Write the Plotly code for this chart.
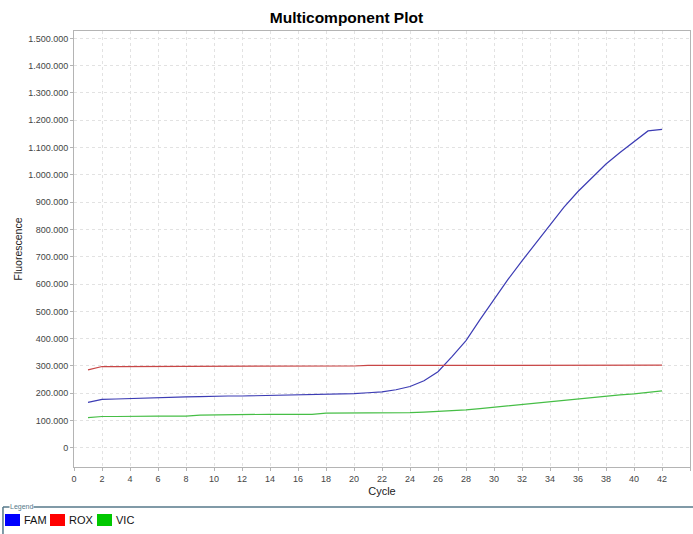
import plotly.graph_objects as go

cycles = list(range(1, 43))

fam = [167000, 178000, 179000, 181000, 182000, 184000, 185000, 187000, 188000, 190000,
       190000, 190000, 191000, 192000, 193000, 195000, 196000, 197000, 199000, 199000,
       202000, 205000, 213000, 225000, 246000, 279000, 334000, 393000, 470000, 545000,
       617000, 685000, 750000, 819000, 882000, 939000, 989000, 1040000, 1082000, 1122000,
       1161000, 1167000]

rox = [286000, 298000, 298000, 298000, 298000, 298000, 298000, 298000, 300000, 300000,
       300000, 300000, 300000, 300000, 300000, 300000, 300000, 300000, 300000, 300000,
       302000, 302000, 302000, 302000, 302000, 302000, 302000, 302000, 302000, 302000,
       302000, 302000, 302000, 302000, 302000, 302000, 302000, 302000, 302000, 302000,
       302000, 303000]

vic = [111000, 115000, 115000, 116000, 116000, 116000, 116000, 116000, 120000, 121000,
       121000, 123000, 123000, 123000, 123000, 123000, 123000, 127000, 127000, 127000,
       127000, 127000, 128000, 129000, 131000, 133000, 135000, 139000, 144000, 149000,
       155000, 160000, 165000, 171000, 176000, 181000, 186000, 190000, 194000, 198000,
       204000, 209000]

series = [
    ("FAM", fam, "#3c3cb4", "#0000ff"),
    ("ROX", rox, "#c84646", "#ff0000"),
    ("VIC", vic, "#46be46", "#00c800"),
]

fig = go.Figure()

for name, vals, line_col, swatch in series:
    fig.add_trace(go.Scatter(x=cycles, y=vals, mode="lines", name=name,
                             line=dict(color=line_col, width=1.2),
                             showlegend=False))

grid = dict(showgrid=True, gridcolor="#e2e2e2", griddash="dot", gridwidth=1,
            showline=True, linecolor="#b4b4b4", linewidth=1, mirror=True,
            ticks="outside", ticklen=3, tickcolor="#b4b4b4", automargin=False,
            tickfont=dict(size=9, color="#444444"), zeroline=False)

fig.update_xaxes(range=[0, 44], dtick=2, tick0=0,
                 title=dict(text="Cycle", font=dict(size=11, color="#222222"), standoff=4),
                 **grid)
fig.update_yaxes(range=[-70000, 1527000], dtick=100000, tick0=0, tickformat=",d",
                 title=dict(text="Fluorescence", font=dict(size=10.5, color="#222222"), standoff=3),
                 **grid)

# legend strip below the plot, in the style of the original (titled border + swatches)
border = "#56798a"
lx, ly = -0.1153, -0.0917
fig.add_shape(type="line", xref="paper", yref="paper", x0=lx, x1=1.02, y0=ly, y1=ly,
              line=dict(color=border, width=1.5))
fig.add_shape(type="line", xref="paper", yref="paper", x0=lx, x1=lx, y0=ly, y1=-0.17,
              line=dict(color=border, width=1.5))
fig.add_annotation(text="Legend", xref="paper", yref="paper", x=-0.105, y=ly,
                   xanchor="left", yanchor="middle", showarrow=False,
                   font=dict(size=7, color=border), bgcolor="white", borderpad=0)

px_per_paper = 616.0
swatch_x = [5, 50, 97]
for (name, vals, line_col, swatch), sx in zip(series, swatch_x):
    x0 = (sx - 74) / px_per_paper
    x1 = (sx + 15 - 74) / px_per_paper
    fig.add_shape(type="rect", xref="paper", yref="paper", x0=x0, x1=x1,
                  y0=(467 - 526) / 436.0, y1=(467 - 514) / 436.0,
                  fillcolor=swatch, line=dict(width=0))
    fig.add_annotation(text=name, xref="paper", yref="paper",
                       x=(sx + 17 - 74) / px_per_paper, y=(467 - 520) / 436.0,
                       xanchor="left", yanchor="middle", showarrow=False,
                       font=dict(size=11, color="#111111"))

fig.update_layout(
    title=dict(text="<b>Multicomponent Plot</b>", x=0.5, xanchor="center",
               yref="container", y=1 - 18 / 534, yanchor="middle",
               font=dict(size=15.5, color="#000000")),
    width=693, height=534,
    margin=dict(l=74, r=3, t=31, b=67, autoexpand=False),
    paper_bgcolor="white", plot_bgcolor="white",
    font=dict(family="Liberation Sans, Arial, sans-serif"),
    separators=",.",
    showlegend=False,
)

# drop the browser's default body margin so the figure sits at the page origin
fig.write_html("out.html", config={"displayModeBar": False},
               post_script="document.body.style.margin='0px';document.body.style.overflow='hidden';")
